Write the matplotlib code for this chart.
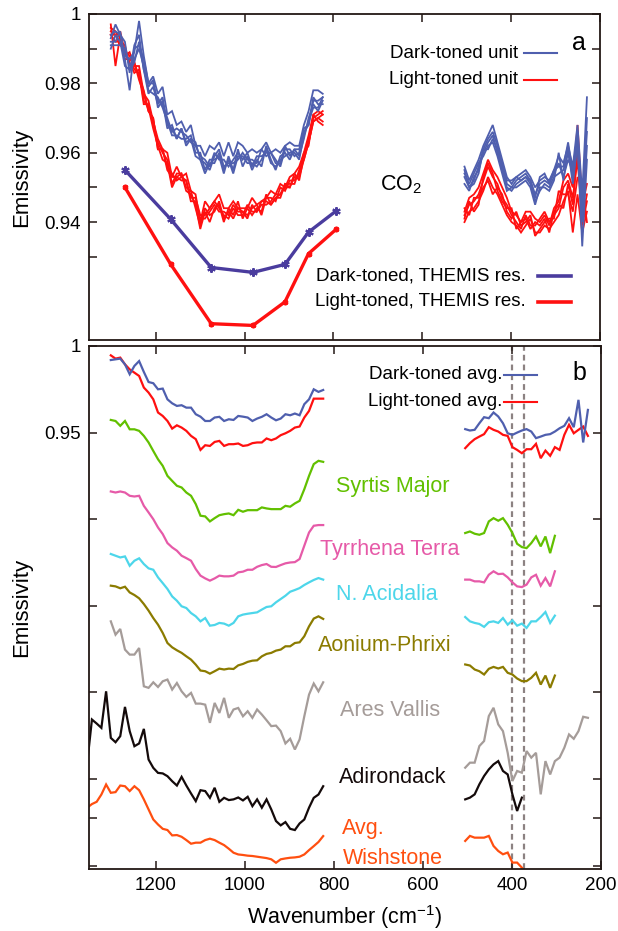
import numpy as np
import matplotlib
matplotlib.use('Agg')
import matplotlib.pyplot as plt

plt.rcParams['font.family'] = ['Liberation Sans', 'DejaVu Sans']
plt.rcParams['mathtext.fontset'] = 'custom'
plt.rcParams['mathtext.rm'] = 'Liberation Sans'
plt.rcParams['mathtext.it'] = 'Liberation Sans:italic'
plt.rcParams['mathtext.default'] = 'regular'
plt.rcParams['font.size'] = 13.5

# wavenumber channels (cm-1), TES-like spacing
wn_hi = np.arange(1301.0, 820.0, -10.6)    # 46 channels
wn_ext = np.arange(1354.0, 820.0, -10.6)   # 51 channels (Mini-TES, starts further left)
wn_lo = np.arange(505.0, 225.0, -10.6)     # 27 channels

# ---- panel a : individual spectra ----
dark_hi = [
    [.993, .997, .994, .988, .987, .989, .998, .988, .980, .982, .977, .979, .971, .972, .968, .969,
     .966, .968, .962, .962, .959, .962, .961, .963, .959, .963, .959, .963, .962, .960, .961, .960,
     .961, .963, .960, .961, .960, .962, .963, .962, .962, .968, .972, .978, .978, .977],
    [.990, .994, .992, .985, .984, .986, .992, .984, .977, .979, .974, .976, .968, .967, .964, .967,
     .962, .964, .959, .958, .954, .957, .957, .960, .955, .958, .954, .959, .959, .957, .957, .956,
     .958, .961, .957, .956, .958, .959, .960, .960, .958, .965, .969, .973, .973, .976],
    [.992, .992, .995, .987, .978, .990, .991, .987, .980, .980, .975, .974, .970, .966, .967, .966,
     .965, .963, .962, .959, .958, .956, .960, .958, .958, .956, .958, .960, .958, .960, .956, .959,
     .959, .960, .960, .957, .957, .962, .959, .961, .961, .966, .968, .976, .974, .974],
    [.991, .991, .991, .990, .985, .987, .990, .985, .978, .977, .976, .973, .969, .965, .965, .964,
     .964, .965, .960, .960, .955, .958, .958, .959, .954, .959, .955, .961, .956, .959, .955, .958,
     .956, .962, .958, .955, .959, .960, .958, .961, .959, .964, .970, .974, .972, .975],
    [.994, .995, .994, .992, .983, .991, .994, .984, .979, .981, .973, .975, .967, .968, .964, .967,
     .963, .964, .963, .958, .957, .955, .959, .961, .956, .957, .957, .958, .960, .958, .958, .957,
     .961, .959, .960, .958, .956, .961, .961, .959, .960, .967, .968, .975, .975, .976],
]
dark_lo = [
    [.956, .952, .955, .958, .962, .965, .968, .963, .958, .953, .951, .953, .954, .955, .953, .950,
     .952, .953, .952, .955, .959, .957, .962, .956, .968, .948, .976],
    [.951, .949, .953, .955, .960, .963, .965, .960, .955, .950, .949, .951, .952, .953, .951, .946,
     .949, .951, .950, .953, .954, .955, .960, .953, .962, .940, .962],
    [.953, .950, .951, .954, .961, .964, .966, .962, .957, .951, .950, .952, .953, .954, .952, .948,
     .951, .952, .951, .954, .957, .953, .958, .955, .965, .944, .966],
    [.954, .951, .954, .957, .959, .962, .963, .959, .954, .949, .950, .950, .951, .952, .950, .945,
     .950, .950, .949, .952, .960, .952, .961, .951, .963, .933, .958],
    [.955, .950, .952, .956, .961, .961, .964, .961, .956, .952, .952, .953, .952, .953, .952, .947,
     .953, .954, .951, .955, .956, .956, .963, .954, .966, .942, .970],
]
light_hi = [
    [.997, .985, .994, .988, .989, .985, .985, .977, .975, .969, .964, .961, .960, .953, .956, .953,
     .954, .949, .948, .940, .946, .944, .946, .948, .944, .944, .946, .944, .944, .944, .947, .945,
     .946, .947, .949, .948, .951, .950, .953, .954, .956, .960, .965, .971, .972, .971],
    [.994, .994, .991, .990, .986, .983, .984, .975, .973, .967, .962, .958, .957, .950, .953, .954,
     .949, .948, .945, .938, .943, .940, .944, .945, .940, .944, .942, .946, .941, .944, .942, .944,
     .943, .948, .945, .947, .947, .951, .951, .951, .955, .958, .963, .969, .970, .969],
    [.996, .995, .993, .987, .987, .986, .982, .978, .972, .970, .961, .961, .955, .953, .953, .952,
     .952, .946, .946, .941, .941, .943, .945, .943, .943, .942, .945, .943, .943, .941, .945, .943,
     .945, .945, .946, .948, .948, .950, .950, .954, .952, .959, .964, .970, .971, .972],
    [.995, .994, .995, .989, .988, .984, .983, .974, .974, .968, .963, .960, .958, .951, .954, .954,
     .950, .949, .944, .939, .944, .942, .943, .946, .941, .943, .941, .944, .943, .942, .944, .945,
     .942, .947, .947, .946, .950, .949, .952, .952, .954, .960, .962, .971, .969, .968],
    [.994, .992, .992, .991, .985, .986, .981, .977, .972, .970, .961, .961, .956, .954, .952, .953,
     .952, .947, .947, .942, .942, .944, .946, .944, .942, .941, .944, .942, .942, .945, .943, .943,
     .946, .946, .945, .947, .948, .951, .950, .953, .953, .958, .963, .969, .970, .971],
]
light_lo = [
    [.943, .947, .948, .950, .954, .958, .955, .953, .950, .947, .943, .942, .940, .943, .943, .941,
     .940, .942, .939, .944, .946, .952, .954, .950, .968, .945, .951],
    [.940, .943, .944, .946, .949, .953, .950, .948, .945, .942, .940, .939, .937, .939, .941, .937,
     .937, .939, .938, .940, .942, .946, .949, .937, .948, .937, .943],
    [.942, .945, .946, .948, .952, .956, .953, .951, .947, .945, .942, .940, .938, .942, .939, .939,
     .941, .943, .940, .942, .944, .950, .952, .947, .958, .941, .948],
    [.944, .942, .947, .947, .950, .952, .948, .950, .948, .943, .941, .943, .939, .940, .942, .936,
     .938, .940, .941, .941, .949, .948, .948, .943, .953, .950, .940],
    [.941, .946, .943, .945, .953, .957, .954, .949, .946, .944, .944, .938, .940, .941, .938, .940,
     .939, .941, .937, .943, .945, .944, .951, .945, .962, .939, .946],
]

# THEMIS band centres and band-averaged emissivity
themis_wn = [1269, 1166, 1075, 981, 909, 856, 794]
themis_dark = [0.9550, 0.9408, 0.9269, 0.9255, 0.9278, 0.9371, 0.9432]
themis_light = [0.9500, 0.9278, 0.9107, 0.9102, 0.9170, 0.9309, 0.9379]

# ---- panel b : averages and offset regional spectra ----
dark_avg_hi = [.9919, .9923, .9927, .9894, .9837, .9885, .9913, .9850, .9792, .9785, .9750, .9754,
               .9692, .9669, .9654, .9658, .9644, .9644, .9606, .9592, .9567, .9567, .9587, .9591,
               .9567, .9577, .9573, .9596, .9592, .9587, .9567, .9581, .9591, .9606, .9587, .9571,
               .9581, .9606, .9600, .9610, .9600, .9664, .9692, .9750, .9735, .9746]
dark_avg_lo = [.9520, .9512, .9516, .9554, .9589, .9583, .9616, .9593, .9554, .9496, .9487, .9500,
               .9512, .9520, .9506, .9468, .9477, .9487, .9491, .9506, .9525, .9539, .9583, .9531,
               .9689, .9443, .9631]
light_avg_hi = [.9946, .9927, .9933, .9894, .9865, .9846, .9827, .9760, .9731, .9692, .9616, .9596,
                .9567, .9523, .9542, .9529, .9510, .9481, .9462, .9400, .9427, .9423, .9446, .9452,
                .9423, .9433, .9433, .9437, .9423, .9427, .9439, .9443, .9443, .9466, .9456, .9466,
                .9485, .9496, .9510, .9529, .9535, .9587, .9625, .9696, .9696, .9696]
light_avg_lo = [.9410, .9439, .9462, .9477, .9491, .9531, .9516, .9506, .9487, .9481, .9416, .9400,
                .9381, .9404, .9404, .9435, .9352, .9396, .9366, .9416, .9400, .9487, .9545, .9496,
                .9516, .9535, .9481]

syrtis_hi = [.9573, .9567, .9539, .9567, .9519, .9519, .9510, .9481, .9443, .9394, .9346, .9308,
             .9250, .9221, .9193, .9183, .9154, .9135, .9087, .9020, .9016, .8987, .9006, .9023,
             .9029, .9033, .9023, .9054, .9043, .9052, .9052, .9052, .9068, .9062, .9058, .9058,
             .9058, .9077, .9072, .9091, .9106, .9173, .9250, .9318, .9337, .9331]
syrtis_lo = [.8920, .8929, .8916, .8910, .8920, .8987, .9006, .8991, .9006, .8968, .8920, .8858,
             .8839, .8833, .8862, .8900, .8843, .8900, .8804, .8904]
tyrrhena_hi = [.9160, .9154, .9160, .9154, .9135, .9131, .9135, .9077, .9039, .9000, .8952, .8914,
               .8862, .8837, .8818, .8789, .8775, .8760, .8712, .8674, .8658, .8645, .8658, .8674,
               .8670, .8670, .8674, .8693, .8697, .8708, .8708, .8725, .8735, .8741, .8725, .8724,
               .8735, .8745, .8750, .8752, .8770, .8847, .8923, .8962, .8966, .8966]
tyrrhena_lo = [.8651, .8651, .8641, .8641, .8635, .8679, .8699, .8683, .8685, .8664, .8635, .8612,
               .8608, .8622, .8664, .8679, .8616, .8660, .8612, .8699]
acidalia_hi = [.8799, .8789, .8779, .8785, .8731, .8760, .8774, .8741, .8716, .8708, .8664, .8631,
               .8597, .8554, .8529, .8497, .8487, .8458, .8439, .8410, .8429, .8385, .8389, .8401,
               .8397, .8385, .8401, .8439, .8449, .8454, .8458, .8462, .8478, .8493, .8497, .8520,
               .8539, .8558, .8581, .8591, .8602, .8620, .8635, .8649, .8660, .8651]
acidalia_lo = [.8435, .8410, .8401, .8395, .8378, .8405, .8410, .8401, .8429, .8391, .8416, .8385,
               .8397, .8372, .8410, .8410, .8435, .8464, .8401, .8443]
aonium_hi = [.8616, .8612, .8601, .8610, .8577, .8562, .8543, .8510, .8472, .8429, .8391, .8343,
             .8285, .8260, .8243, .8228, .8208, .8189, .8160, .8126, .8122, .8108, .8122, .8137,
             .8132, .8137, .8135, .8156, .8164, .8176, .8183, .8185, .8208, .8222, .8228, .8241,
             .8247, .8266, .8266, .8285, .8289, .8324, .8381, .8426, .8439, .8424]
aonium_lo = [.8161, .8155, .8132, .8122, .8103, .8136, .8147, .8138, .8147, .8113, .8103, .8080,
             .8065, .8065, .8084, .8113, .8045, .8097, .8026, .8097]
ares_hi = [.8410, .8333, .8366, .8247, .8218, .8218, .8256, .8035, .8026, .8058, .8031, .8064,
           .8074, .8016, .8054, .8006, .7974, .7997, .7935, .7935, .7929, .7824, .7939, .7881,
           .7968, .7853, .7901, .7910, .7862, .7891, .7853, .7901, .7872, .7839, .7805, .7808,
           .7776, .7705, .7732, .7670, .7728, .7862, .7987, .8051, .8006, .8058]
ares_lo = [.7565, .7594, .7594, .7690, .7719, .7863, .7911, .7815, .7776, .7651, .7488, .7546,
           .7536, .7661, .7623, .7651, .7411, .7603, .7526, .7603, .7623, .7680, .7757, .7732,
           .7776, .7859, .7853]
adirondack_hi = [.7593, .7843, .7820, .7795, .8006, .7737, .7712, .7747, .7916, .7776, .7689, .7705,
                 .7789, .7612, .7564, .7535, .7532, .7516, .7487, .7462, .7512, .7462, .7416, .7372,
                 .7435, .7430, .7391, .7449, .7368, .7391, .7378, .7382, .7393, .7376, .7397, .7343,
                 .7382, .7334, .7382, .7324, .7257, .7232, .7251, .7212, .7205, .7243, .7266, .7334,
                 .7391, .7410, .7458]
adirondack_lo = [.7382, .7392, .7411, .7469, .7517, .7555, .7584, .7603, .7546, .7526, .7411, .7315,
                 .7392]
wishstone_hi = [.7334, .7355, .7368, .7410, .7468, .7420, .7424, .7462, .7458, .7430, .7458, .7435,
                .7382, .7324, .7266, .7237, .7212, .7205, .7174, .7176, .7166, .7147, .7126, .7132,
                .7132, .7147, .7155, .7147, .7132, .7118, .7097, .7074, .7064, .7061, .7057, .7055,
                .7051, .7047, .7043, .7036, .7016, .7036, .7041, .7045, .7047, .7051, .7064, .7089,
                .7112, .7136, .7170]
wishstone_lo = [.7142, .7171, .7161, .7161, .7161, .7171, .7113, .7084, .7065, .7075, .7017, .7017,
                .6988]

band_lines = [401, 373]

# colours
c_blue = '#4f5fae'
c_blue_th = '#4a3c9e'
c_red = '#ff1010'
c_green = '#62c000'
c_pink = '#e65aa8'
c_cyan = '#4dd6ea'
c_olive = '#8b7b00'
c_grey = '#a59c99'
c_black = '#140a0a'
c_orange = '#ff4f10'
c_axis = '#231815'


def spectrum(ax, xh, yh, xl, yl, color, lw):
    ax.plot(xh, yh, color=color, lw=lw, solid_joinstyle='miter')
    ax.plot(xl, yl, color=color, lw=lw, solid_joinstyle='miter')


def style_axes(ax):
    ax.set_xlim(1350, 200)
    ax.set_xticks([1200, 1000, 800, 600, 400, 200])
    ax.tick_params(direction='in', top=True, right=True, length=6, width=1.1,
                   colors=c_axis, labelcolor='black', labelsize=13.5, pad=6)
    for s in ax.spines.values():
        s.set_linewidth(1.3)
        s.set_color(c_axis)


fig = plt.figure(figsize=(6.18, 9.31), dpi=100)
ax_a = fig.add_axes([89 / 618, 1 - 340 / 931, 511 / 618, 326 / 931])
ax_b = fig.add_axes([89 / 618, 1 - 869 / 931, 512 / 618, 523 / 931])

# ---------------- panel a ----------------
for yh, yl in zip(light_hi, light_lo):
    spectrum(ax_a, wn_hi, yh, wn_lo, yl, c_red, 1.3)
for yh, yl in zip(dark_hi, dark_lo):
    spectrum(ax_a, wn_hi, yh, wn_lo, yl, c_blue, 1.3)
ax_a.plot(themis_wn, themis_dark, color=c_blue_th, lw=2.4, marker=(6, 2, 0), ms=6, mew=1.5)
ax_a.plot(themis_wn, themis_light, color=c_red, lw=2.4, marker=(6, 2, 0), ms=4, mew=1.5)

style_axes(ax_a)
ax_a.set_ylim(0.906, 1.0)
ax_a.set_yticks([0.93, 0.94, 0.95, 0.96, 0.97, 0.98, 0.99, 1.0])
ax_a.set_yticklabels(['', '0.94', '', '0.96', '', '0.98', '', '1'])
ax_a.set_xticklabels([])
ax_a.set_ylabel('Emissivity', fontsize=16)
ax_a.yaxis.set_label_coords(-0.112, 0.5)

tr = ax_a.transAxes
ax_a.text(0.8395, 0.880, 'Dark-toned unit', transform=tr, ha='right', va='center')
ax_a.plot([0.851, 0.916], [0.880, 0.880], transform=tr, color=c_blue, lw=1.5)
ax_a.text(0.8395, 0.798, 'Light-toned unit', transform=tr, ha='right', va='center')
ax_a.plot([0.851, 0.916], [0.798, 0.798], transform=tr, color=c_red, lw=1.5)
ax_a.text(0.855, 0.196, 'Dark-toned, THEMIS res.', transform=tr, ha='right', va='center')
ax_a.plot([0.879, 0.943], [0.196, 0.196], transform=tr, color=c_blue_th, lw=2.6)
ax_a.text(0.855, 0.117, 'Light-toned, THEMIS res.', transform=tr, ha='right', va='center')
ax_a.plot([0.879, 0.943], [0.117, 0.117], transform=tr, color=c_red, lw=2.6)
ax_a.text(0.959, 0.911, 'a', transform=tr, ha='center', va='center', fontsize=18)
ax_a.text(0.611, 0.475, 'CO$_2$', transform=tr, ha='center', va='center', fontsize=15.5)

# ---------------- panel b ----------------
for xv in band_lines:
    ax_b.axvline(xv, color='#8c8282', lw=1.6, linestyle=(0, (2.6, 1.8)), zorder=1)

regions = [
    (syrtis_hi, syrtis_lo, wn_hi, wn_lo[:20], c_green),
    (tyrrhena_hi, tyrrhena_lo, wn_hi, wn_lo[:20], c_pink),
    (acidalia_hi, acidalia_lo, wn_hi, wn_lo[:20], c_cyan),
    (aonium_hi, aonium_lo, wn_hi, wn_lo[:20], c_olive),
    (ares_hi, ares_lo, wn_hi, wn_lo, c_grey),
    (adirondack_hi, adirondack_lo, wn_ext, wn_lo[:13], c_black),
    (wishstone_hi, wishstone_lo, wn_ext, wn_lo[:13], c_orange),
]
spectrum(ax_b, wn_hi, light_avg_hi, wn_lo, light_avg_lo, c_red, 1.6)
spectrum(ax_b, wn_hi, dark_avg_hi, wn_lo, dark_avg_lo, c_blue, 1.6)
for yh, yl, xh, xl, col in regions:
    spectrum(ax_b, xh, yh, xl, yl, col, 1.6)

style_axes(ax_b)
ax_b.set_ylim(0.698, 1.0)
ax_b.set_yticks([0.70, 0.7275, 0.75, 0.80, 0.85, 0.90, 0.95, 1.0])
ax_b.set_yticklabels(['', '', '', '', '', '', '0.95', '1'])
ax_b.set_xticklabels(['1200', '1000', '800', '600', '400', '200'])
ax_b.set_ylabel('Emissivity', fontsize=16)
ax_b.yaxis.set_label_coords(-0.112, 0.5)
ax_b.set_xlabel('Wavenumber (cm$^{-1}$)', fontsize=15.5, labelpad=6)

tr = ax_b.transAxes
ax_b.text(0.807, 0.9446, 'Dark-toned avg.', transform=tr, ha='right', va='center')
ax_b.plot([0.8105, 0.875], [0.9446, 0.9446], transform=tr, color=c_blue, lw=1.5)
ax_b.text(0.807, 0.893, 'Light-toned avg.', transform=tr, ha='right', va='center')
ax_b.plot([0.8105, 0.875], [0.893, 0.893], transform=tr, color=c_red, lw=1.5)
ax_b.text(0.957, 0.948, 'b', transform=tr, ha='center', va='center', fontsize=18)

labels = [
    ('Syrtis Major', 0.482, 0.732, c_green),
    ('Tyrrhena Terra', 0.451, 0.610, c_pink),
    ('N. Acidalia', 0.482, 0.524, c_cyan),
    ('Aonium-Phrixi', 0.447, 0.428, c_olive),
    ('Ares Vallis', 0.490, 0.304, c_grey),
    ('Adirondack', 0.488, 0.174, c_black),
    ('Avg.', 0.494, 0.078, c_orange),
    ('Wishstone', 0.496, 0.021, c_orange),
]
for txt, fx, fy, col in labels:
    ax_b.text(fx, fy, txt, transform=tr, ha='left', va='center', color=col, fontsize=15.5)

fig.savefig('out.png', dpi=100)
plt.close(fig)
